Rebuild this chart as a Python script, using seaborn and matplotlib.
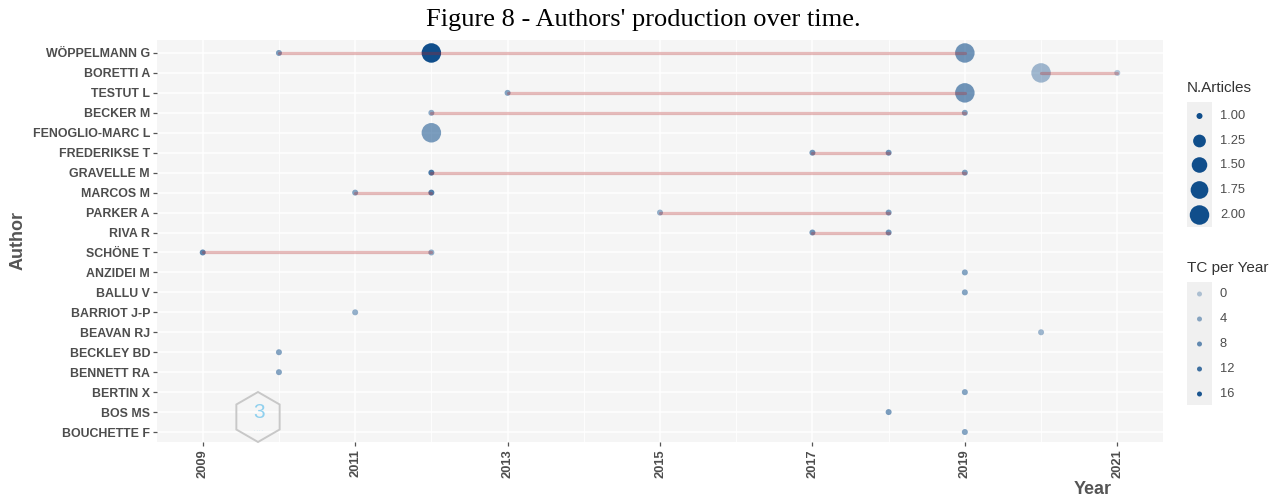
import numpy as np
import pandas as pd
import matplotlib
matplotlib.use("Agg")
import matplotlib.pyplot as plt
import seaborn as sns
from matplotlib.colors import ListedColormap, to_rgb
from matplotlib.patches import RegularPolygon, Rectangle

# ---- data -------------------------------------------------------------
authors = ["WÖPPELMANN G", "BORETTI A", "TESTUT L", "BECKER M", "FENOGLIO-MARC L",
           "FREDERIKSE T", "GRAVELLE M", "MARCOS M", "PARKER A", "RIVA R",
           "SCHÖNE T", "ANZIDEI M", "BALLU V", "BARRIOT J-P", "BEAVAN RJ",
           "BECKLEY BD", "BENNETT RA", "BERTIN X", "BOS MS", "BOUCHETTE F"]

point_author = ["WÖPPELMANN G", "WÖPPELMANN G", "WÖPPELMANN G", "BORETTI A", "BORETTI A",
                "TESTUT L", "TESTUT L", "BECKER M", "BECKER M", "FENOGLIO-MARC L",
                "FREDERIKSE T", "FREDERIKSE T", "GRAVELLE M", "GRAVELLE M",
                "MARCOS M", "MARCOS M", "PARKER A", "PARKER A", "RIVA R", "RIVA R",
                "SCHÖNE T", "SCHÖNE T", "ANZIDEI M", "BALLU V", "BARRIOT J-P",
                "BEAVAN RJ", "BECKLEY BD", "BENNETT RA", "BERTIN X", "BOS MS", "BOUCHETTE F"]
point_year = [2010, 2012, 2019, 2020, 2021,
              2013, 2019, 2012, 2019, 2012,
              2017, 2018, 2012, 2019,
              2011, 2012, 2015, 2018, 2017, 2018,
              2009, 2012, 2019, 2019, 2011,
              2020, 2010, 2010, 2019, 2018, 2019]
point_articles = [1, 2, 2, 2, 1,
                  1, 2, 1, 1, 2,
                  1, 1, 1, 1,
                  1, 1, 1, 1, 1, 1,
                  1, 1, 1, 1, 1,
                  1, 1, 1, 1, 1, 1]
point_tcpy = [6, 17, 7, 2, 0,
              5, 7, 4, 5, 6,
              7, 7, 11, 6,
              5, 10, 3.5, 6, 7, 7,
              9, 3.5, 5, 5, 3.5,
              2.5, 5, 5, 5, 6, 5]

year_breaks = [2009, 2011, 2013, 2015, 2017, 2019, 2021]
size_breaks = [1.00, 1.25, 1.50, 1.75, 2.00]
tc_breaks = [0, 4, 8, 12, 16]

# ---- styling ----------------------------------------------------------
W, H = 1273, 497
DPI = 100
point_rgb = to_rgb("#104E8B")       # dodgerblue4
line_color = "#B22222"              # firebrick
text_col = "#4D4D4D"
panel_bg = "#F5F5F5"
tc_min, tc_max = 0, 17
alpha_lo, alpha_hi = 0.3, 1.0

sns.set_theme(style="white")
plt.rcParams["font.family"] = ["Liberation Sans", "DejaVu Sans"]

def frac(x, y, w, h):
    return [x / W, 1 - (y + h) / H, w / W, h / H]

def px2pt(d):
    return d * 72.0 / DPI

def area_from_value(v, lo=1.0, hi=2.0, dmin=6.0, dmax=19.5):
    r = np.sqrt((v - lo) / (hi - lo))
    return px2pt(dmin + (dmax - dmin) * r) ** 2

def alpha_from_tc(v):
    return alpha_lo + (alpha_hi - alpha_lo) * (v - tc_min) / (tc_max - tc_min)

# colour ramp where only transparency changes with TC per year
ramp = np.array([[*point_rgb, a] for a in np.linspace(alpha_lo, alpha_hi, 256)])
alpha_cmap = ListedColormap(ramp)

pos = {a: i for i, a in enumerate(authors)}
pts = pd.DataFrame({"Author": point_author, "Year": point_year,
                    "Articles": point_articles, "TCpY": point_tcpy})
pts["row"] = pts["Author"].map(pos)

spans = (pts.groupby("Author")["Year"].agg(["min", "max"]).reset_index())
spans = spans[spans["min"] < spans["max"]]
segs = pd.DataFrame({
    "Author": np.repeat(spans["Author"].values, 2),
    "Year": np.column_stack([spans["min"].values, spans["max"].values]).ravel(),
})
segs["row"] = segs["Author"].map(pos)

# ---- figure -----------------------------------------------------------
fig = plt.figure(figsize=(W / DPI, H / DPI), dpi=DPI)
fig.patch.set_facecolor("white")
ax = fig.add_axes(frac(157, 40, 1006, 402))
ax.set_facecolor(panel_bg)

sns.scatterplot(data=pts, x="Year", y="row", hue="TCpY", size="Articles",
                palette=alpha_cmap, hue_norm=(tc_min, tc_max),
                sizes={1: area_from_value(1.0), 2: area_from_value(2.0)},
                linewidth=0, legend=False, ax=ax, zorder=3)
sns.lineplot(data=segs, x="Year", y="row", units="Author", estimator=None,
             color=line_color, alpha=0.3, linewidth=2.3, legend=False,
             ax=ax, zorder=4, sort=True)

ax.set_xlim(2008.4, 2021.6)
ax.set_ylim(len(authors) - 1 + 0.5, -0.65)
ax.set_xticks(year_breaks)
ax.set_xticks(np.arange(2010, 2021, 2), minor=True)
ax.set_xticklabels([str(y) for y in year_breaks], rotation=90,
                   fontsize=9.3, fontweight="bold", color=text_col)
ax.set_yticks(range(len(authors)))
ax.set_yticklabels(authors, fontsize=8.9, fontweight="bold", color=text_col)
ax.grid(True, which="major", color="white", linewidth=1.1, zorder=0)
ax.grid(True, which="minor", axis="x", color="white", linewidth=0.6, zorder=0)
ax.set_axisbelow(True)
ax.tick_params(axis="both", which="major", length=3, width=0.9, color="#555555",
               pad=2, bottom=True, left=True)
ax.tick_params(axis="x", which="minor", length=0)
for s in ax.spines.values():
    s.set_visible(False)
ax.set_xlabel("")
ax.set_ylabel("")

# axis titles
fig.text(18 / W, 1 - 240 / H, "Author", rotation=90, ha="center", va="center",
         fontsize=13, fontweight="bold", color="#555555")
fig.text(1093 / W, 1 - 489 / H, "Year", ha="center", va="center",
         fontsize=13, fontweight="bold", color="#555555")

# title
fig.text(643 / W, 1 - 20 / H, "Figure 8 - Authors' production over time.",
         ha="center", va="center", fontsize=19, color="black",
         family=["Liberation Serif", "DejaVu Serif"])

# hexagonal badge in the panel corner
hex_badge = RegularPolygon((258, H - 417), numVertices=6, radius=25,
                           facecolor="none", edgecolor="#C8C8C8", linewidth=1.4,
                           transform=None, zorder=5)
fig.patches.append(hex_badge)
fig.text(259 / W, 1 - 413 / H, "3", ha="center", va="center", fontsize=15,
         color="#8FD0EE", zorder=6)
fig.text(258 / W, 1 - 431 / H, "· · · ·", ha="center", va="center", fontsize=3,
         color="#8FD0EE", zorder=6)

# ---- legends ----------------------------------------------------------
def legend_block(title, title_y, box_y0, box_y1, key_ys, labels, sizes, alphas):
    fig.text(1187 / W, 1 - title_y / H, title, ha="left", va="center",
             fontsize=11, color="#333333")
    lax = fig.add_axes(frac(1187, box_y0, 25, box_y1 - box_y0))
    lax.set_xlim(0, 25)
    lax.set_ylim(box_y1, box_y0)
    lax.set_facecolor("#F0F0F0")
    lax.set_axis_off()
    lax.add_patch(Rectangle((0, box_y0), 25, box_y1 - box_y0, facecolor="#F0F0F0",
                            edgecolor="none", zorder=0))
    cols = [(*point_rgb, a) for a in alphas]
    lax.scatter([12.5] * len(key_ys), key_ys, s=sizes, c=cols, linewidths=0, zorder=2)
    for ky, lab in zip(key_ys, labels):
        fig.text(1220 / W, 1 - ky / H, lab, ha="left", va="center",
                 fontsize=9.3, color=text_col)

legend_block("N.Articles", 88, 102, 227, [116, 141, 165, 190, 215],
             [f"{v:.2f}" for v in size_breaks],
             [area_from_value(v) for v in size_breaks],
             [1.0] * len(size_breaks))
legend_block("TC per Year", 268, 282, 405, [294, 319, 344, 369, 394],
             [str(v) for v in tc_breaks],
             [px2pt(5.0) ** 2] * len(tc_breaks),
             [alpha_from_tc(v) for v in tc_breaks])

fig.savefig("out.png", dpi=DPI, facecolor="white")
